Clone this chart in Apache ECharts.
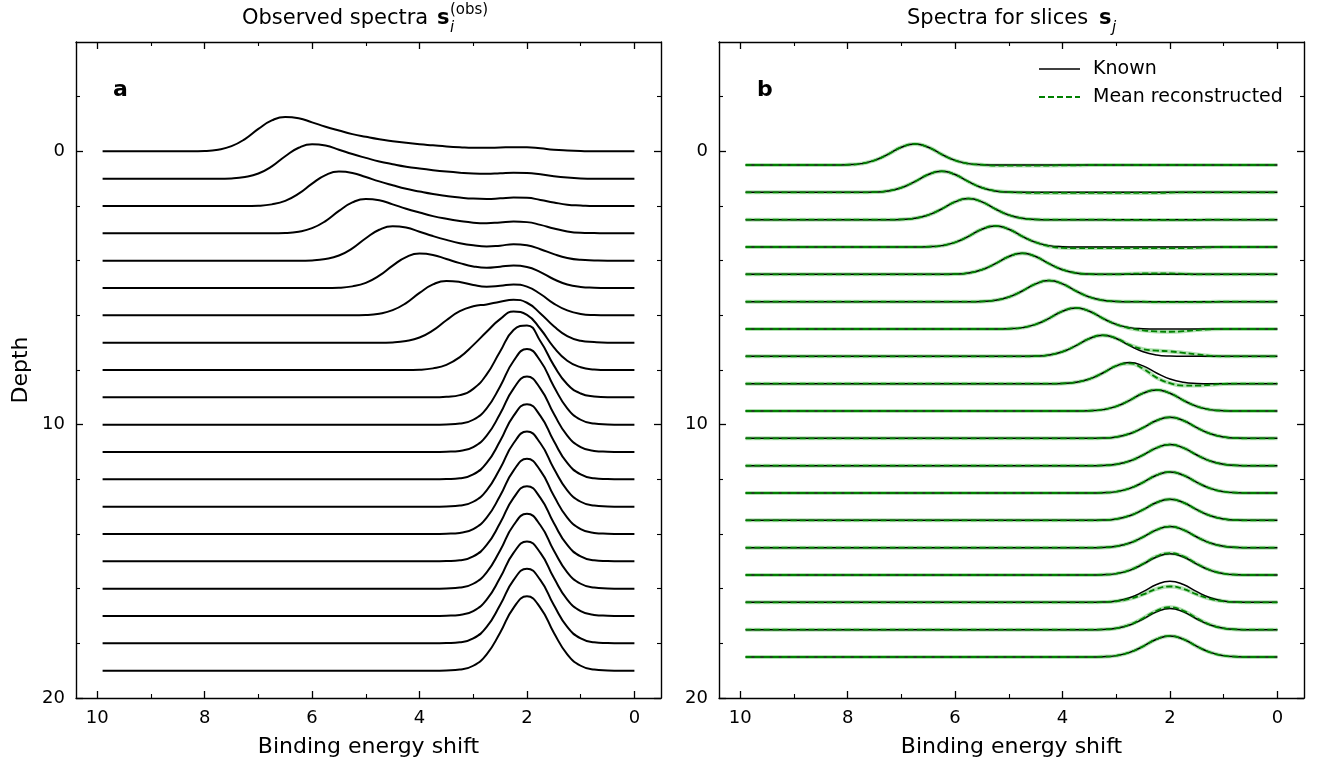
<!DOCTYPE html>
<html><head><meta charset="utf-8">
<script src="https://cdn.jsdelivr.net/npm/echarts@6/dist/echarts.min.js"></script>
<style>html,body{margin:0;padding:0;background:#fff}#c{width:1317px;height:771px}</style>
</head><body><div id="c"></div>
<script>
// ---------- data ----------
const energy = [9.9,9.5,9,8.5,8.25,8,7.75,7.5,7.25,7,6.75,6.5,6.25,6,5.75,5.5,5.25,5,4.75,4.5,4.25,4,3.75,3.5,3.25,3,2.75,2.5,2.25,2,1.75,1.5,1.25,1,0.75,0.5,0.25,0];

const obsDepths = [0,1,2,3,4,5,6,7,8,9,10,11,12,13,14,15,16,17,18,19];
const obsSpectra = [
[0,0,0,0,0,.01,.06,.19,.45,.82,1.13,1.26,1.21,1.06,.90,.76,.63,.53,.44,.37,.31,.26,.22,.18,.15,.13,.13,.14,.15,.15,.11,.06,.03,.01,0,0,0,0],
[0,0,0,0,0,0,0,.01,.06,.19,.45,.82,1.13,1.26,1.21,1.06,.90,.76,.63,.53,.44,.37,.31,.26,.22,.19,.18,.20,.22,.21,.16,.09,.04,.01,0,0,0,0],
[0,0,0,0,0,0,0,0,0,.01,.06,.19,.45,.82,1.13,1.26,1.21,1.06,.90,.76,.63,.53,.44,.37,.31,.27,.26,.28,.31,.30,.22,.13,.05,.02,0,0,0,0],
[0,0,0,0,0,0,0,0,0,0,0,.01,.06,.19,.45,.82,1.13,1.26,1.21,1.06,.90,.76,.63,.53,.45,.39,.37,.40,.43,.41,.31,.18,.07,.02,.01,0,0,0],
[0,0,0,0,0,0,0,0,0,0,0,0,0,.01,.06,.19,.45,.82,1.13,1.26,1.21,1.06,.90,.76,.64,.56,.52,.55,.60,.56,.42,.24,.10,.03,.01,0,0,0],
[0,0,0,0,0,0,0,0,0,0,0,0,0,0,0,.01,.06,.19,.45,.82,1.13,1.26,1.21,1.06,.91,.79,.74,.78,.82,.77,.58,.32,.13,.04,.01,0,0,0],
[0,0,0,0,0,0,0,0,0,0,0,0,0,0,0,0,0,.01,.06,.19,.45,.82,1.13,1.26,1.22,1.11,1.05,1.08,1.13,1.05,.78,.43,.18,.05,.01,0,0,0],
[0,0,0,0,0,0,0,0,0,0,0,0,0,0,0,0,0,0,0,.01,.06,.19,.45,.82,1.15,1.33,1.40,1.50,1.57,1.46,1.07,.60,.24,.07,.02,0,0,0],
[0,0,0,0,0,0,0,0,0,0,0,0,0,0,0,0,0,0,0,0,0,.01,.06,.19,.47,.91,1.40,1.86,2.14,2.02,1.50,.83,.34,.10,.02,0,0,0],
[0,0,0,0,0,0,0,0,0,0,0,0,0,0,0,0,0,0,0,0,0,0,0,.02,.08,.31,.84,1.68,2.46,2.63,2.05,1.17,.48,.14,.03,0,0,0],
[0,0,0,0,0,0,0,0,0,0,0,0,0,0,0,0,0,0,0,0,0,0,0,.01,.04,.18,.60,1.40,2.33,2.77,2.33,1.40,.60,.18,.04,.01,0,0],
[0,0,0,0,0,0,0,0,0,0,0,0,0,0,0,0,0,0,0,0,0,0,0,.01,.04,.18,.60,1.40,2.32,2.76,2.32,1.40,.60,.18,.04,.01,0,0],
[0,0,0,0,0,0,0,0,0,0,0,0,0,0,0,0,0,0,0,0,0,0,0,.01,.04,.18,.60,1.40,2.32,2.75,2.32,1.40,.60,.18,.04,.01,0,0],
[0,0,0,0,0,0,0,0,0,0,0,0,0,0,0,0,0,0,0,0,0,0,0,.01,.04,.18,.60,1.40,2.32,2.75,2.32,1.40,.60,.18,.04,.01,0,0],
[0,0,0,0,0,0,0,0,0,0,0,0,0,0,0,0,0,0,0,0,0,0,0,.01,.04,.18,.60,1.40,2.32,2.75,2.32,1.40,.60,.18,.04,.01,0,0],
[0,0,0,0,0,0,0,0,0,0,0,0,0,0,0,0,0,0,0,0,0,0,0,.01,.04,.18,.60,1.40,2.32,2.75,2.32,1.40,.60,.18,.04,.01,0,0],
[0,0,0,0,0,0,0,0,0,0,0,0,0,0,0,0,0,0,0,0,0,0,0,.01,.04,.18,.60,1.40,2.32,2.74,2.32,1.40,.60,.18,.04,.01,0,0],
[0,0,0,0,0,0,0,0,0,0,0,0,0,0,0,0,0,0,0,0,0,0,0,.01,.04,.18,.60,1.40,2.31,2.73,2.31,1.40,.60,.18,.04,.01,0,0],
[0,0,0,0,0,0,0,0,0,0,0,0,0,0,0,0,0,0,0,0,0,0,0,.01,.04,.18,.60,1.40,2.31,2.73,2.31,1.40,.60,.18,.04,.01,0,0],
[0,0,0,0,0,0,0,0,0,0,0,0,0,0,0,0,0,0,0,0,0,0,0,.01,.04,.18,.60,1.39,2.30,2.72,2.30,1.39,.60,.18,.04,.01,0,0]
];

const sliceDepths = [0.5,1.5,2.5,3.5,4.5,5.5,6.5,7.5,8.5,9.5,10.5,11.5,12.5,13.5,14.5,15.5,16.5,17.5,18.5];
const knownSpectra = [
[0,0,0,0,0,.01,.05,.17,.39,.65,.77,.65,.39,.17,.05,.01,0,0,0,0,0,0,0,0,0,0,0,0,0,0,0,0,0,0,0,0,0,0],
[0,0,0,0,0,0,0,.01,.05,.17,.39,.65,.77,.65,.39,.17,.05,.01,0,0,0,0,0,0,0,0,0,0,0,0,0,0,0,0,0,0,0,0],
[0,0,0,0,0,0,0,0,0,.01,.05,.17,.39,.65,.77,.65,.39,.17,.05,.01,0,0,0,0,0,0,0,0,0,0,0,0,0,0,0,0,0,0],
[0,0,0,0,0,0,0,0,0,0,0,.01,.05,.17,.39,.65,.77,.65,.39,.17,.05,.01,0,0,0,0,0,0,0,0,0,0,0,0,0,0,0,0],
[0,0,0,0,0,0,0,0,0,0,0,0,0,.01,.05,.17,.39,.65,.77,.65,.39,.17,.05,.01,0,0,0,0,0,0,0,0,0,0,0,0,0,0],
[0,0,0,0,0,0,0,0,0,0,0,0,0,0,0,.01,.05,.17,.39,.65,.77,.65,.39,.17,.05,.01,0,0,0,0,0,0,0,0,0,0,0,0],
[0,0,0,0,0,0,0,0,0,0,0,0,0,0,0,0,0,.01,.05,.17,.39,.65,.77,.65,.39,.17,.05,.01,0,0,0,0,0,0,0,0,0,0],
[0,0,0,0,0,0,0,0,0,0,0,0,0,0,0,0,0,0,0,.01,.05,.17,.39,.65,.77,.65,.39,.17,.05,.01,0,0,0,0,0,0,0,0],
[0,0,0,0,0,0,0,0,0,0,0,0,0,0,0,0,0,0,0,0,0,.01,.05,.17,.39,.65,.77,.65,.39,.17,.05,.01,0,0,0,0,0,0],
[0,0,0,0,0,0,0,0,0,0,0,0,0,0,0,0,0,0,0,0,0,0,0,.01,.05,.17,.39,.65,.77,.65,.39,.17,.05,.01,0,0,0,0],
[0,0,0,0,0,0,0,0,0,0,0,0,0,0,0,0,0,0,0,0,0,0,0,0,.01,.05,.17,.39,.65,.77,.65,.39,.17,.05,.01,0,0,0],
[0,0,0,0,0,0,0,0,0,0,0,0,0,0,0,0,0,0,0,0,0,0,0,0,.01,.05,.17,.39,.65,.77,.65,.39,.17,.05,.01,0,0,0],
[0,0,0,0,0,0,0,0,0,0,0,0,0,0,0,0,0,0,0,0,0,0,0,0,.01,.05,.17,.39,.65,.77,.65,.39,.17,.05,.01,0,0,0],
[0,0,0,0,0,0,0,0,0,0,0,0,0,0,0,0,0,0,0,0,0,0,0,0,.01,.05,.17,.39,.65,.77,.65,.39,.17,.05,.01,0,0,0],
[0,0,0,0,0,0,0,0,0,0,0,0,0,0,0,0,0,0,0,0,0,0,0,0,.01,.05,.17,.39,.65,.77,.65,.39,.17,.05,.01,0,0,0],
[0,0,0,0,0,0,0,0,0,0,0,0,0,0,0,0,0,0,0,0,0,0,0,0,.01,.05,.17,.40,.66,.78,.66,.40,.17,.05,.01,0,0,0],
[0,0,0,0,0,0,0,0,0,0,0,0,0,0,0,0,0,0,0,0,0,0,0,0,.01,.05,.17,.39,.65,.77,.65,.39,.17,.05,.01,0,0,0],
[0,0,0,0,0,0,0,0,0,0,0,0,0,0,0,0,0,0,0,0,0,0,0,0,.01,.05,.17,.39,.65,.77,.65,.39,.17,.05,.01,0,0,0],
[0,0,0,0,0,0,0,0,0,0,0,0,0,0,0,0,0,0,0,0,0,0,0,0,.01,.05,.17,.39,.65,.77,.65,.39,.17,.05,.01,0,0,0]
];
const reconSpectra = [
[0,0,0,0,0,.01,.05,.17,.39,.65,.77,.65,.39,.17,.05,.01,-.02,-.02,-.02,-.02,-.02,-.01,-.01,0,0,0,0,0,0,0,0,0,0,0,0,0,0,0],
[0,0,0,0,0,0,0,.01,.05,.17,.39,.65,.77,.65,.39,.17,.05,.01,-.01,-.02,-.02,-.02,-.02,-.02,-.02,-.02,-.02,-.02,-.02,-.01,0,0,0,0,0,0,0,0],
[0,0,0,0,0,0,0,0,0,.01,.05,.17,.39,.65,.77,.65,.39,.17,.05,.01,0,0,0,0,0,-.01,-.01,-.01,-.01,-.01,-.01,-.01,0,0,0,0,0,0],
[0,0,0,0,0,0,0,0,0,0,0,.01,.05,.17,.39,.65,.77,.65,.39,.17,.03,-.03,-.04,-.04,-.04,-.04,-.04,-.04,-.04,-.04,-.04,-.03,-.01,0,0,0,0,0],
[0,0,0,0,0,0,0,0,0,0,0,0,0,.01,.05,.17,.39,.65,.77,.65,.39,.17,.05,.01,0,0,.02,.03,.03,.03,.02,0,0,0,0,0,0,0],
[0,0,0,0,0,0,0,0,0,0,0,0,0,0,0,.01,.05,.17,.39,.65,.77,.65,.39,.17,.05,.01,0,0,-.02,-.02,-.02,-.02,-.01,0,0,0,0,0],
[0,0,0,0,0,0,0,0,0,0,0,0,0,0,0,0,0,.01,.05,.17,.39,.65,.77,.65,.39,.17,.03,-.05,-.09,-.10,-.08,-.04,-.01,0,0,0,0,0],
[0,0,0,0,0,0,0,0,0,0,0,0,0,0,0,0,0,0,0,.01,.05,.17,.39,.65,.77,.66,.42,.26,.21,.18,.13,.07,.02,0,0,0,0,0],
[0,0,0,0,0,0,0,0,0,0,0,0,0,0,0,0,0,0,0,0,0,.01,.05,.17,.39,.65,.74,.55,.22,.02,-.07,-.07,-.04,-.01,0,0,0,0],
[0,0,0,0,0,0,0,0,0,0,0,0,0,0,0,0,0,0,0,0,0,0,0,.01,.05,.17,.39,.65,.77,.65,.39,.17,.05,.01,0,0,0,0],
[0,0,0,0,0,0,0,0,0,0,0,0,0,0,0,0,0,0,0,0,0,0,0,0,.01,.05,.17,.39,.65,.77,.65,.39,.17,.05,.01,0,0,0],
[0,0,0,0,0,0,0,0,0,0,0,0,0,0,0,0,0,0,0,0,0,0,0,0,.01,.05,.17,.39,.65,.77,.65,.39,.17,.05,.01,0,0,0],
[0,0,0,0,0,0,0,0,0,0,0,0,0,0,0,0,0,0,0,0,0,0,0,0,.01,.05,.17,.39,.65,.77,.65,.39,.17,.05,.01,0,0,0],
[0,0,0,0,0,0,0,0,0,0,0,0,0,0,0,0,0,0,0,0,0,0,0,0,.01,.05,.17,.39,.65,.77,.65,.39,.17,.05,.01,0,0,0],
[0,0,0,0,0,0,0,0,0,0,0,0,0,0,0,0,0,0,0,0,0,0,0,0,.01,.05,.17,.39,.65,.77,.65,.39,.17,.05,.01,0,0,0],
[0,0,0,0,0,0,0,0,0,0,0,0,0,0,0,0,0,0,0,0,0,0,0,0,.01,.05,.18,.41,.68,.80,.68,.41,.18,.05,.01,0,0,0],
[0,0,0,0,0,0,0,0,0,0,0,0,0,0,0,0,0,0,0,0,0,0,0,0,.01,.04,.13,.29,.49,.58,.49,.29,.13,.04,.01,0,0,0],
[0,0,0,0,0,0,0,0,0,0,0,0,0,0,0,0,0,0,0,0,0,0,0,0,.01,.05,.18,.42,.69,.82,.69,.42,.18,.05,.01,0,0,0],
[0,0,0,0,0,0,0,0,0,0,0,0,0,0,0,0,0,0,0,0,0,0,0,0,.01,.05,.17,.39,.65,.77,.65,.39,.17,.05,.01,0,0,0]
];

const xMajor = [0,2,4,6,8,10];
const xMinor = [1,3,5,7,9];
const yMajor = [0,10,20];
const yMinor = [-2,2,4,6,8,12,14,16,18];
const legendNames = ['Known', 'Mean reconstructed'];

// ---------- checks ----------
[obsSpectra, knownSpectra, reconSpectra].forEach((set, si) => set.forEach((a, i) => {
  if (a.length !== energy.length) throw new Error('length mismatch set ' + si + ' row ' + i + ': ' + a.length);
}));

// ---------- chart ----------
const FONT = '"DejaVu Sans", sans-serif';
const chart = echarts.init(document.getElementById('c'), null, {renderer: 'canvas', width: 1317, height: 771});

const X_MIN = -0.495, X_MAX = 10.395, Y_MIN = -4, Y_MAX = 20;
const axisLineStyle = {color: '#000', width: 1.4};

function xAxes(g) {
  const base = {gridIndex: g, type: 'value', min: X_MIN, max: X_MAX, inverse: true, splitLine: {show: false}};
  return [
    Object.assign({}, base, {position: 'bottom',
      axisLine: {show: true, onZero: false, lineStyle: axisLineStyle},
      axisTick: {show: true, inside: true, length: 7, lineStyle: {color: '#000', width: 1.3}, customValues: xMajor},
      axisLabel: {show: true, customValues: xMajor, margin: 11, fontSize: 18, color: '#000', fontFamily: FONT},
      name: 'Binding energy shift', nameLocation: 'middle', nameGap: 38,
      nameTextStyle: {fontSize: 22, color: '#000', fontFamily: FONT}}),
    Object.assign({}, base, {position: 'bottom', axisLine: {show: false, onZero: false},
      axisTick: {show: true, inside: true, length: 4, lineStyle: {color: '#000', width: 1.1}, customValues: xMinor},
      axisLabel: {show: false}}),
    Object.assign({}, base, {position: 'top', axisLine: {show: true, onZero: false, lineStyle: axisLineStyle},
      axisTick: {show: true, inside: true, length: 7, lineStyle: {color: '#000', width: 1.3}, customValues: xMajor},
      axisLabel: {show: false}}),
    Object.assign({}, base, {position: 'top', axisLine: {show: false, onZero: false},
      axisTick: {show: true, inside: true, length: 4, lineStyle: {color: '#000', width: 1.1}, customValues: xMinor},
      axisLabel: {show: false}})
  ];
}
function yAxes(g, withName) {
  const base = {gridIndex: g, type: 'value', min: Y_MIN, max: Y_MAX, inverse: true, splitLine: {show: false}};
  const main = Object.assign({}, base, {position: 'left',
      axisLine: {show: true, onZero: false, lineStyle: axisLineStyle},
      axisTick: {show: true, inside: true, length: 7, lineStyle: {color: '#000', width: 1.3}, customValues: yMajor},
      axisLabel: {show: true, customValues: yMajor, margin: 11, fontSize: 18, color: '#000', fontFamily: FONT}});
  if (withName) Object.assign(main, {name: 'Depth', nameLocation: 'middle', nameGap: 44, nameRotate: 90,
      nameTextStyle: {fontSize: 22, color: '#000', fontFamily: FONT}});
  return [
    main,
    Object.assign({}, base, {position: 'left', axisLine: {show: false, onZero: false},
      axisTick: {show: true, inside: true, length: 4, lineStyle: {color: '#000', width: 1.1}, customValues: yMinor},
      axisLabel: {show: false}}),
    Object.assign({}, base, {position: 'right', axisLine: {show: true, onZero: false, lineStyle: axisLineStyle},
      axisTick: {show: true, inside: true, length: 7, lineStyle: {color: '#000', width: 1.3}, customValues: yMajor},
      axisLabel: {show: false}}),
    Object.assign({}, base, {position: 'right', axisLine: {show: false, onZero: false},
      axisTick: {show: true, inside: true, length: 4, lineStyle: {color: '#000', width: 1.1}, customValues: yMinor},
      axisLabel: {show: false}})
  ];
}

const series = [];
obsSpectra.forEach((spec, i) => {
  series.push({type: 'line', name: 'obs' + i, xAxisIndex: 0, yAxisIndex: 0,
    data: energy.map((e, n) => [e, obsDepths[i] - spec[n]]),
    smooth: true, symbol: 'none', silent: true, animation: false, z: 2,
    lineStyle: {color: '#000', width: 2}});
});
sliceDepths.forEach((d, j) => {
  series.push({type: 'line', name: 'band' + j, xAxisIndex: 4, yAxisIndex: 4,
    data: energy.map((e, n) => [e, d - reconSpectra[j][n]]),
    smooth: true, symbol: 'none', silent: true, animation: false, z: 1,
    lineStyle: {color: 'rgba(60,180,60,0.4)', width: 4}});
  series.push({type: 'line', name: legendNames[0], xAxisIndex: 4, yAxisIndex: 4,
    data: energy.map((e, n) => [e, d - knownSpectra[j][n]]),
    smooth: true, symbol: 'none', silent: true, animation: false, z: 2,
    lineStyle: {color: '#000', width: 1.5}});
  series.push({type: 'line', name: legendNames[1], xAxisIndex: 4, yAxisIndex: 4,
    data: energy.map((e, n) => [e, d - reconSpectra[j][n]]),
    smooth: true, symbol: 'none', silent: true, animation: false, z: 3,
    lineStyle: {color: '#008000', width: 1.8, type: [6, 3]}});
});

const txt = (x, y, text, font) => ({type: 'text', x: x, y: y, silent: true,
  style: {text: text, fill: '#000', font: font, align: 'left', verticalAlign: 'middle'}});

chart.setOption({
  animation: false,
  backgroundColor: '#fff',
  textStyle: {fontFamily: FONT},
  grid: [
    {left: 76, top: 42, width: 585, height: 656},
    {left: 719, top: 42, width: 585, height: 656}
  ],
  xAxis: xAxes(0).concat(xAxes(1)),
  yAxis: yAxes(0, true).concat(yAxes(1, false)),
  graphic: [
    txt(242, 19, 'Observed spectra', '21px "DejaVu Sans"'),
    txt(437, 19, 's', 'bold 21px "DejaVu Sans"'),
    txt(450, 28, 'i', 'italic 15px "DejaVu Sans"'),
    txt(450, 10, '(obs)', '15px "DejaVu Sans"'),
    txt(907, 19, 'Spectra for slices', '21px "DejaVu Sans"'),
    txt(1099, 19, 's', 'bold 21px "DejaVu Sans"'),
    txt(1112, 28, 'j', 'italic 15px "DejaVu Sans"'),
    txt(113, 90, 'a', 'bold 22px "DejaVu Sans"'),
    txt(757, 90, 'b', 'bold 22px "DejaVu Sans"'),
    // legend
    {type: 'line', silent: true, shape: {x1: 1039, y1: 69, x2: 1080, y2: 69},
      style: {stroke: '#000', lineWidth: 1.5}},
    {type: 'line', silent: true, shape: {x1: 1039, y1: 97, x2: 1080, y2: 97},
      style: {stroke: '#008000', lineWidth: 1.8, lineDash: [6, 3]}},
    txt(1093, 69, legendNames[0], '19px "DejaVu Sans"'),
    txt(1093, 97, legendNames[1], '19px "DejaVu Sans"')
  ],
  series: series
});
</script>
</body></html>
